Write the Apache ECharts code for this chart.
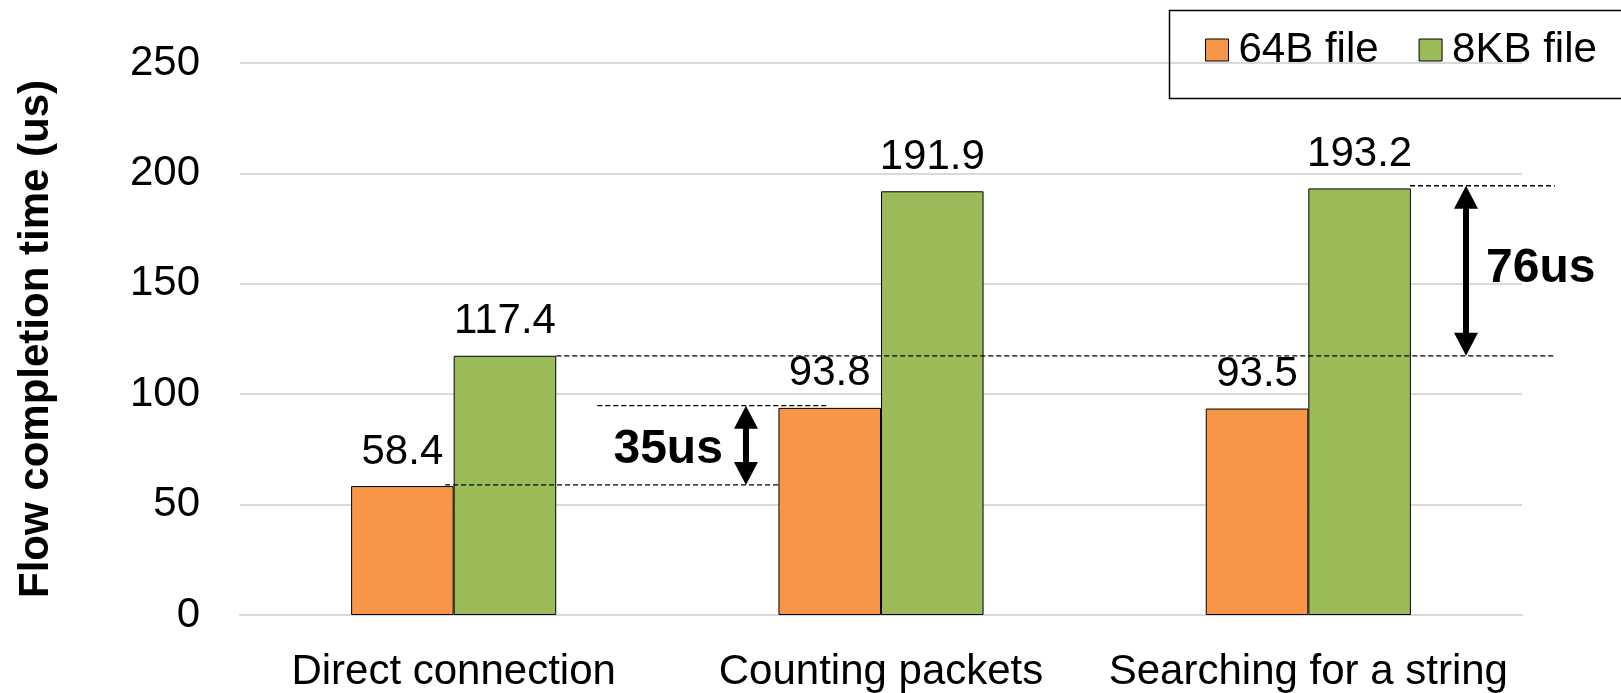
<!DOCTYPE html>
<html>
<head>
<meta charset="utf-8">
<script src="https://cdn.jsdelivr.net/npm/echarts@6/dist/echarts.min.js"></script>
<style>
  html, body { margin: 0; padding: 0; background: #fff; }
  #chart { width: 1621px; height: 693px; }
</style>
</head>
<body>
<div id="chart"></div>
<script>
// ---- data ----
const categories = ['Direct connection', 'Counting packets', 'Searching for a string'];
const seriesNames = ['64B file', '8KB file'];
const values64B = [58.4, 93.8, 93.5];
const values8KB = [117.4, 191.9, 193.2];
const yMin = 0, yMax = 250, yInterval = 50;
const yAxisTitle = 'Flow completion time (us)';
// gap annotations
const gapLabels = ['35us', '76us'];
const gapLow = [58.9, 117.4];
const gapHigh = [94.8, 194.4];

// ---- layout (positions in category units along a hidden linear x axis) ----
const FONT = '"Liberation Sans", Arial, Helvetica, sans-serif';
const dashLowX = [[-0.02, 0.76], [0.24, 2.577]];
const dashHighX = [[0.336, 0.877], [2.238, 2.577]];
const arrowX = [0.684, 2.369];
const textX = [0.630, 2.416];
const textYPos = [74.9, 156.6];
const textAlign = ['right', 'left'];

const dashData = [];
const arrowData = [];
for (let i = 0; i < gapLabels.length; i++) {
  dashData.push([dashLowX[i][0], dashLowX[i][1], gapLow[i]]);
  dashData.push([dashHighX[i][0], dashHighX[i][1], gapHigh[i]]);
  arrowData.push([arrowX[i], gapLow[i], gapHigh[i], textX[i], textYPos[i]]);
}

const chart = echarts.init(document.getElementById('chart'), null, { renderer: 'canvas' });

const option = {
  animation: false,
  textStyle: { fontFamily: FONT },
  grid: { left: 240, right: 99, top: 63, bottom: 76, containLabel: false },
  graphic: [
    {
      type: 'rect',
      left: 1167,
      top: 8,
      shape: { width: 480, height: 88 },
      style: { fill: 'none', stroke: '#000', lineWidth: 1.5 },
      z: 10,
      silent: true
    }
  ],
  legend: {
    data: seriesNames,
    orient: 'horizontal',
    left: 1205,
    top: 29,
    padding: 0,
    itemWidth: 23,
    itemHeight: 22,
    itemGap: 40,
    selectedMode: false,
    icon: 'rect',
    itemStyle: { borderColor: '#000', borderWidth: 1 },
    textStyle: { fontSize: 42, color: '#000', fontFamily: FONT, padding: [0, 0, 0, 5] }
  },
  xAxis: [
    {
      type: 'category',
      data: categories,
      axisLine: { show: true, lineStyle: { color: '#d9d9d9', width: 2 } },
      axisTick: { show: false },
      axisLabel: { interval: 0, fontSize: 42, color: '#000', margin: 36, fontFamily: FONT },
      splitLine: { show: false }
    },
    {
      type: 'value',
      min: -0.5,
      max: 2.5,
      show: false
    }
  ],
  yAxis: {
    type: 'value',
    min: yMin,
    max: yMax,
    interval: yInterval,
    name: yAxisTitle,
    nameLocation: 'middle',
    nameRotate: 90,
    nameGap: 183,
    nameTextStyle: { fontSize: 42, fontWeight: 'bold', color: '#000', fontFamily: FONT },
    axisLine: { show: false },
    axisTick: { show: false },
    axisLabel: { fontSize: 42, color: '#000', margin: 40, fontFamily: FONT },
    splitLine: { lineStyle: { color: '#d9d9d9', width: 2 } }
  },
  series: [
    {
      name: seriesNames[0],
      type: 'bar',
      data: values64B,
      barGap: '0%',
      barCategoryGap: '52%',
      itemStyle: { color: '#F79646', borderColor: '#000', borderWidth: 1 },
      label: { show: true, position: 'top', distance: 13, fontSize: 42, color: '#000', fontFamily: FONT }
    },
    {
      name: seriesNames[1],
      type: 'bar',
      data: values8KB,
      barGap: '0%',
      barCategoryGap: '52%',
      itemStyle: { color: '#9BBB59', borderColor: '#000', borderWidth: 1 },
      label: { show: true, position: 'top', distance: 13, fontSize: 42, color: '#000', fontFamily: FONT }
    },
    {
      type: 'custom',
      xAxisIndex: 1,
      yAxisIndex: 0,
      z: 5,
      silent: true,
      encode: { x: [0, 1], y: 2 },
      data: dashData,
      renderItem: function (params, api) {
        const p1 = api.coord([api.value(0), api.value(2)]);
        const p2 = api.coord([api.value(1), api.value(2)]);
        return {
          type: 'line',
          shape: { x1: p1[0], y1: p1[1], x2: p2[0], y2: p2[1] },
          style: { stroke: '#000', lineWidth: 1.3, lineDash: [5, 3] }
        };
      }
    },
    {
      type: 'custom',
      xAxisIndex: 1,
      yAxisIndex: 0,
      z: 6,
      silent: true,
      encode: { x: [0, 3], y: [1, 2, 4] },
      data: arrowData,
      renderItem: function (params, api) {
        const i = params.dataIndex;
        const x = api.value(0);
        const top = api.coord([x, api.value(2)]);
        const bot = api.coord([x, api.value(1)]);
        const hw = 12, hh = 23, sw = 6;
        const tp = api.coord([api.value(3), api.value(4)]);
        return {
          type: 'group',
          children: [
            { type: 'rect', shape: { x: top[0] - sw / 2, y: top[1] + hh - 1, width: sw, height: bot[1] - top[1] - 2 * hh + 2 }, style: { fill: '#000' } },
            { type: 'polygon', shape: { points: [[top[0], top[1]], [top[0] - hw, top[1] + hh], [top[0] + hw, top[1] + hh]] }, style: { fill: '#000' } },
            { type: 'polygon', shape: { points: [[bot[0], bot[1]], [bot[0] - hw, bot[1] - hh], [bot[0] + hw, bot[1] - hh]] }, style: { fill: '#000' } },
            { type: 'text', x: tp[0], y: tp[1], style: { text: gapLabels[i], font: 'bold 48px ' + FONT, fill: '#000', align: textAlign[i], verticalAlign: 'middle' } }
          ]
        };
      }
    }
  ]
};

chart.setOption(option);
</script>
</body>
</html>
